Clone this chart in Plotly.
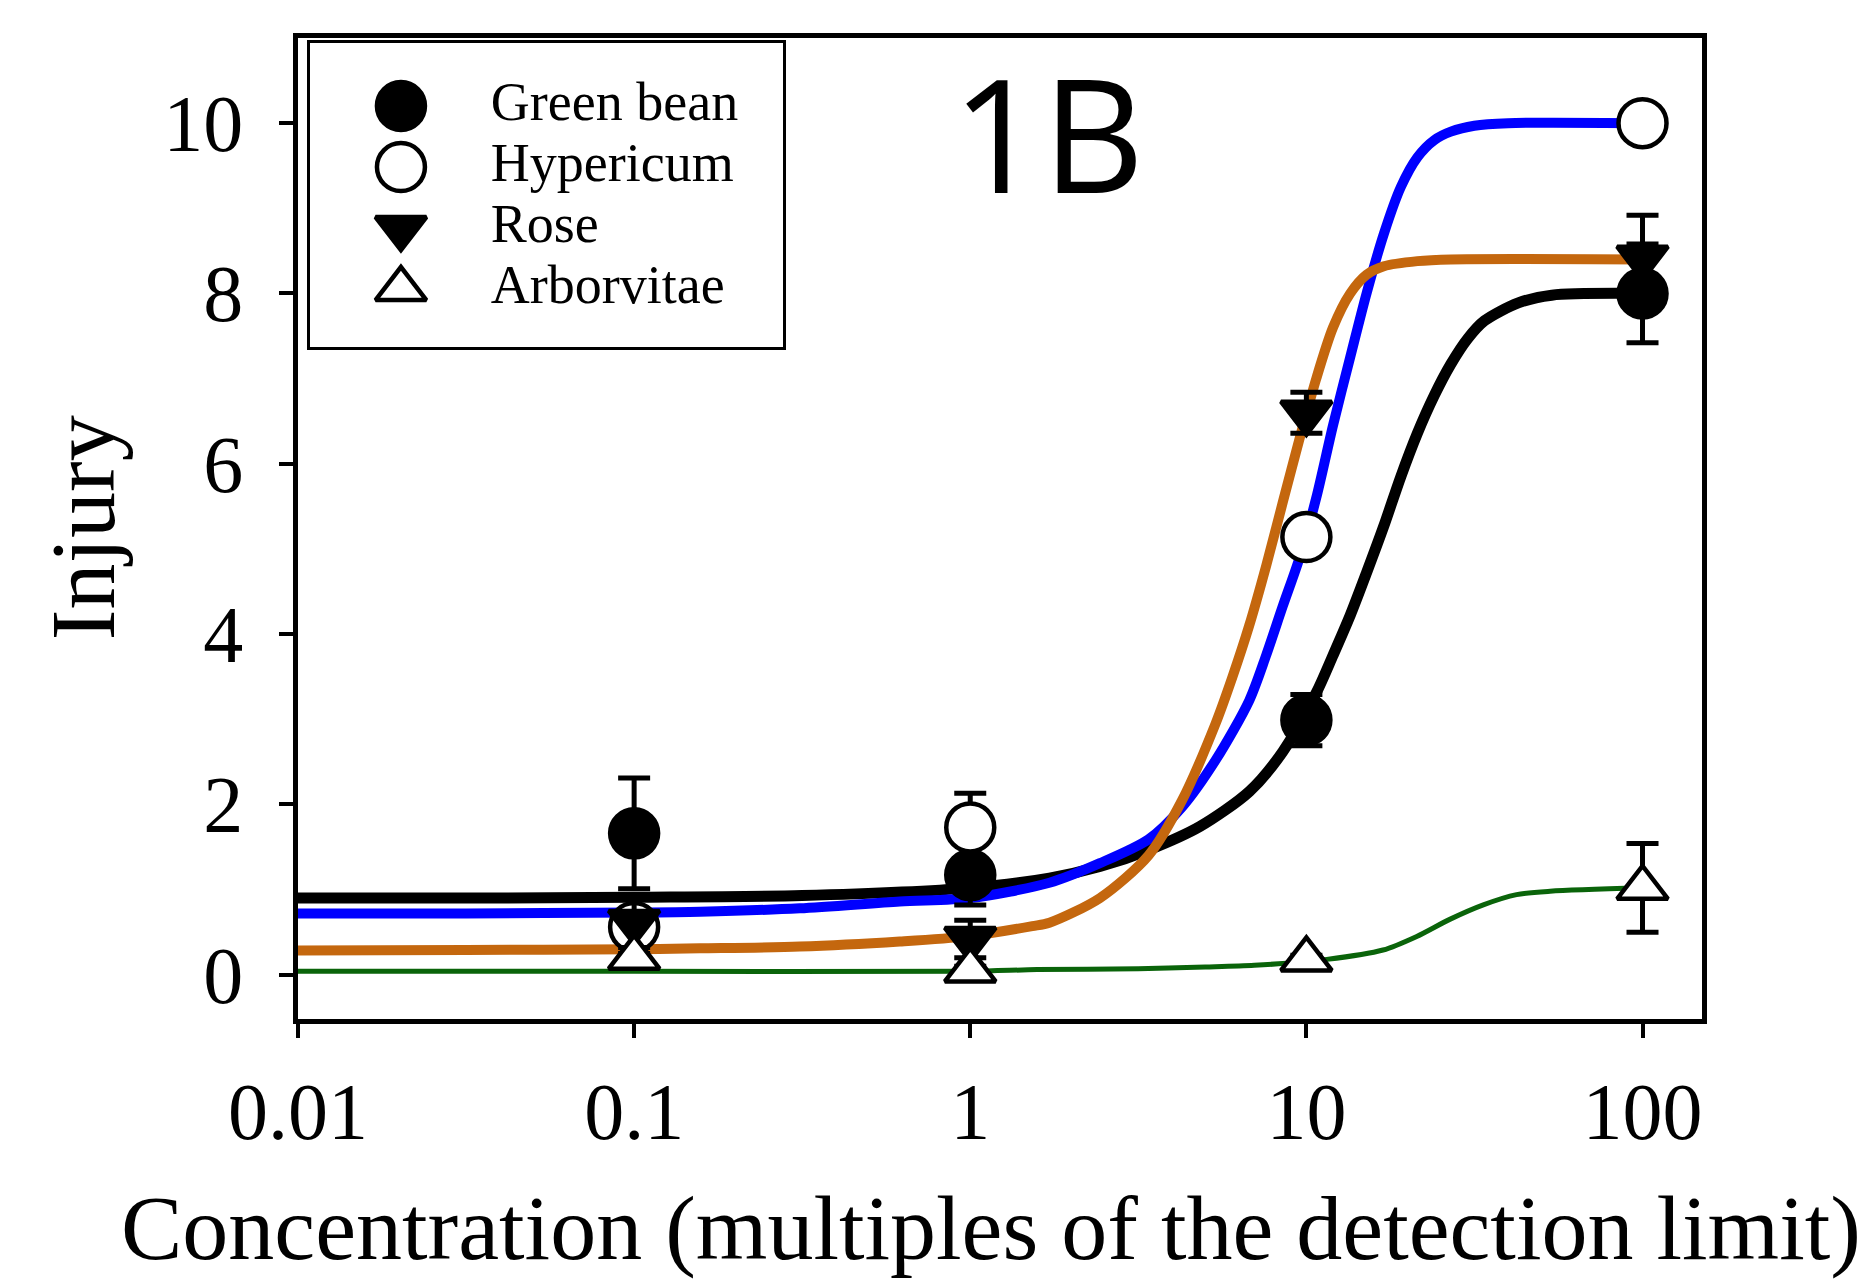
import plotly.graph_objects as go

# ---------------- data ----------------
species = ["Green bean", "Hypericum", "Rose", "Arborvitae"]
conc = [0.1, 1, 10, 100]

green_bean = [1.66, 1.17, 2.99, 8.00]
green_bean_err = [0.65, 0.35, 0.30, 0.58]
hypericum = [0.56, 1.73, 5.14, 10.00]
hypericum_err = [0.10, 0.40, 0.10, 0.0]
rose = [0.62, 0.42, 6.60, 8.42]
rose_err = [0.30, 0.22, 0.24, 0.50]
arborvitae = [0.20, 0.05, 0.18, 1.02]
arborvitae_err = [0.05, 0.05, 0.05, 0.52]

# fitted curves
gb_fit_x = [0.01, 0.0316, 0.1, 0.316, 1, 1.72, 2.43, 3.42, 4.82, 6.76, 8.51, 10.7, 12.0,
            13.5, 15.1, 17.0, 19.1, 21.4, 24.0, 26.9, 30.2, 33.9, 42.7, 53.7, 100]
gb_fit_y = [0.90, 0.90, 0.91, 0.93, 1.02, 1.135, 1.27, 1.47, 1.74, 2.15, 2.62, 3.31, 3.75,
            4.22, 4.72, 5.27, 5.85, 6.36, 6.80, 7.17, 7.47, 7.68, 7.89, 7.98, 8.00]

hy_fit_x = [0.01, 0.0316, 0.1, 0.157, 0.311, 0.617, 1, 1.72, 2.43, 3.39, 4.27, 5.37, 6.76,
            7.59, 8.51, 9.55, 10.7, 12.0, 13.5, 15.1, 17.0, 19.1, 21.4, 24.0, 26.9, 31.6, 39.8, 100]
hy_fit_y = [0.72, 0.72, 0.73, 0.74, 0.78, 0.86, 0.90, 1.08, 1.31, 1.59, 1.97, 2.52, 3.22,
            3.75, 4.33, 4.90, 5.60, 6.45, 7.25, 8.00, 8.70, 9.25, 9.60, 9.80, 9.90, 9.97, 10.0, 10.0]

ro_fit_x = [0.01, 0.0316, 0.1, 0.157, 0.311, 0.617, 0.977, 1.53, 1.72, 2.43, 3.39, 4.27,
            5.37, 6.03, 6.76, 7.59, 8.51, 9.55, 10.7, 12.0, 13.5, 15.1, 17.0, 21.4, 26.9, 100]
ro_fit_y = [0.285, 0.29, 0.30, 0.31, 0.33, 0.39, 0.45, 0.57, 0.61, 0.90, 1.40, 2.05,
            2.95, 3.50, 4.10, 4.80, 5.55, 6.30, 7.00, 7.60, 8.00, 8.22, 8.32, 8.38, 8.40, 8.40]

ar_fit_x = [0.01, 0.1, 1, 1.58, 3.16, 5.0, 7.0, 11.5, 16.9, 21.3, 26.7, 33.6, 42.2, 53.1, 100]
ar_fit_y = [0.04, 0.04, 0.04, 0.06, 0.07, 0.09, 0.11, 0.18, 0.29, 0.45, 0.65, 0.82, 0.94, 0.98, 1.02]

x_tickvals = [0.01, 0.1, 1, 10, 100]
x_ticktext = ["0.01", "0.1", "1", "10", "100"]
y_tickvals = [0, 2, 4, 6, 8, 10]

# ---------------- styles ----------------
SERIF = "Liberation Serif, Times New Roman, serif"
line_styles = [
    dict(color="#000000", width=11),
    dict(color="#0000FF", width=10),
    dict(color="#C4670E", width=10),
    dict(color="#0A640A", width=5),
]
marker_styles = [
    dict(symbol="circle", size=48, color="black", line=dict(color="black", width=4.5)),
    dict(symbol="circle", size=48, color="white", line=dict(color="black", width=4.5)),
    dict(symbol="triangle-down", size=44, color="black", line=dict(color="black", width=4.5)),
    dict(symbol="triangle-up", size=44, color="white", line=dict(color="black", width=4.5)),
]

fig = go.Figure()

fits = [(gb_fit_x, gb_fit_y), (hy_fit_x, hy_fit_y), (ro_fit_x, ro_fit_y), (ar_fit_x, ar_fit_y)]
for (fx, fy), ls in zip(fits, line_styles):
    fig.add_trace(go.Scatter(x=fx, y=fy, mode="lines", line=dict(shape="spline", smoothing=0.8, **ls),
                             showlegend=False, hoverinfo="skip"))

series = [(green_bean, green_bean_err), (hypericum, hypericum_err), (rose, rose_err),
          (arborvitae, arborvitae_err)]
for name, (vals, errs), ms in zip(species, series, marker_styles):
    fig.add_trace(go.Scatter(
        x=conc, y=vals, mode="markers", name=name, marker=ms,
        error_y=dict(type="data", array=errs, visible=True, color="black", thickness=5, width=16),
        showlegend=False))

# ---- legend drawn on an inset axis ----
for i, (name, ms) in enumerate(zip(species, marker_styles)):
    fig.add_trace(go.Scatter(x=[0], y=[i], mode="markers", marker=ms, xaxis="x2", yaxis="y2",
                             showlegend=False, hoverinfo="skip"))
fig.add_trace(go.Scatter(x=[0.19] * len(species), y=list(range(len(species))), mode="text",
                         text=species, textposition="middle right",
                         textfont=dict(family=SERIF, size=54, color="black"),
                         xaxis="x2", yaxis="y2", showlegend=False, hoverinfo="skip"))

W, H = 1865, 1284
L, R, T, B = 298, 163, 38, 265

fig.update_layout(
    width=W, height=H, autosize=False,
    margin=dict(l=L, r=R, t=T, b=B, pad=0),
    paper_bgcolor="white", plot_bgcolor="white",
    showlegend=False,
    xaxis=dict(type="log", range=[-2, 2.177], tickvals=x_tickvals, ticktext=x_ticktext,
               showgrid=False, zeroline=False, showline=True, linecolor="black", linewidth=4.5,
               mirror=True, ticks="outside", ticklen=14, tickwidth=4, tickcolor="black",
               tickfont=dict(family=SERIF, size=80, color="black"), ticklabelstandoff=5),
    yaxis=dict(range=[-0.52, 11.0], tickvals=y_tickvals,
               showgrid=False, zeroline=False, showline=True, linecolor="black", linewidth=4.5,
               mirror=True, ticks="outside", ticklen=14, tickwidth=4, tickcolor="black",
               tickfont=dict(family=SERIF, size=80, color="black"), ticklabelstandoff=20),
    xaxis2=dict(domain=[0.0085, 0.3454], range=[-0.1924, 0.8076], anchor="y2",
                showgrid=False, zeroline=False, showticklabels=False, ticks="",
                showline=True, mirror=True, linecolor="black", linewidth=3, fixedrange=True),
    yaxis2=dict(domain=[0.685, 0.9949], range=[3.95, -1.033], anchor="x2",
                showgrid=False, zeroline=False, showticklabels=False, ticks="",
                showline=True, mirror=True, linecolor="black", linewidth=3, fixedrange=True),
    annotations=[
        dict(text="1B", xref="paper", yref="paper", x=0.534, y=0.905, xanchor="center",
             yanchor="middle", showarrow=False,
             font=dict(family="Open Sans, Noto Sans, sans-serif", size=158, color="black")),
        dict(text="Injury", xref="paper", yref="paper", x=-0.153, y=0.5005, xanchor="center",
             yanchor="middle", textangle=-90, showarrow=False,
             font=dict(family=SERIF, size=92, color="black")),
        dict(text="Concentration (multiples of the detection limit)", xref="paper", yref="paper",
             x=-0.1275, y=-0.213, xanchor="left", yanchor="middle", showarrow=False,
             font=dict(family=SERIF, size=92, color="black")),
    ],
)

fig.write_html("out.html")
